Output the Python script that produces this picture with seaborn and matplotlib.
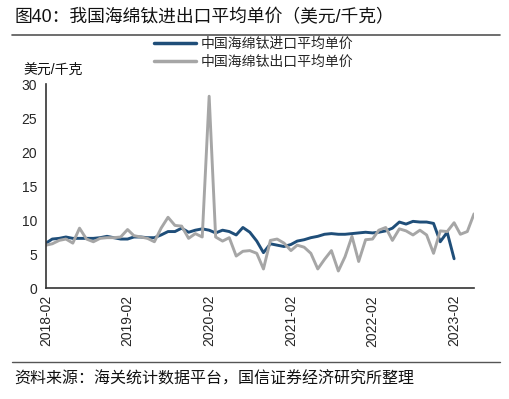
import pandas as pd
import numpy as np
import matplotlib
matplotlib.use("Agg")
import matplotlib.pyplot as plt
import matplotlib.dates as mdates
from matplotlib.lines import Line2D
import seaborn as sns

# Données (USD/kg), mensuel à partir de 2018-02
import_price = [6.6, 7.2, 7.3, 7.5, 7.3, 7.3, 7.3, 7.3, 7.4, 7.6,
                7.4, 7.2, 7.2, 7.5, 7.5, 7.4, 7.4, 7.8, 8.3, 8.3,
                8.8, 8.2, 8.5, 8.7, 8.5, 8.1, 8.5, 8.3, 7.8, 8.9,
                8.2, 6.9, 5.2, 6.5, 6.3, 6.1, 6.4, 6.9, 7.1, 7.4,
                7.6, 7.9, 8.0, 7.9, 7.9, 8.0, 8.1, 8.2, 8.1, 8.2,
                8.4, 8.8, 9.7, 9.4, 9.8, 9.7, 9.7, 9.5, 6.8, 8.2,
                4.3]
export_price = [6.3, 6.5, 7.0, 7.2, 6.6, 8.8, 7.2, 6.8, 7.3, 7.4,
                7.4, 7.5, 8.6, 7.7, 7.5, 7.3, 6.8, 8.8, 10.4, 9.2,
                9.1, 7.3, 8.0, 7.5, 28.2, 7.5, 6.9, 7.4, 4.7, 5.4,
                5.5, 5.1, 2.8, 7.0, 7.2, 6.6, 5.5, 6.3, 6.0, 5.1,
                2.8, 4.2, 5.5, 2.5, 4.6, 7.6, 3.9, 7.1, 7.2, 8.5,
                8.9, 7.0, 8.7, 8.4, 7.8, 8.5, 7.8, 5.1, 8.4, 8.3,
                9.6, 7.9, 8.3, 10.9]
start_month = "2018-02"
import_name = "中国海绵钛进口平均单价"
export_name = "中国海绵钛出口平均单价"
tick_years = ["2018-02", "2019-02", "2020-02", "2021-02", "2022-02", "2023-02"]

dates_imp = pd.date_range(start_month, periods=len(import_price), freq="MS")
dates_exp = pd.date_range(start_month, periods=len(export_price), freq="MS")
df = pd.concat([
    pd.DataFrame({"date": dates_imp, "price": import_price, "serie": import_name}),
    pd.DataFrame({"date": dates_exp, "price": export_price, "serie": export_name}),
])

sns.set_theme(style="white")
plt.rcParams["font.family"] = ["Liberation Sans", "Noto Sans CJK SC", "DejaVu Sans"]
plt.rcParams["axes.unicode_minus"] = False

fig = plt.figure(figsize=(5.09, 3.99), dpi=100)
W, H = 509, 399
ax = fig.add_axes([46 / W, 1 - 288 / H, 428 / W, 204 / H])

sns.lineplot(data=df, x="date", y="price", hue="serie",
             palette={import_name: "#1F4E79", export_name: "#A6A6A6"},
             linewidth=2.1, ax=ax, legend=False)

ax.set_xlim(pd.Timestamp("2018-02-01"), dates_exp[-1])
ax.set_ylim(0, 30)
ax.set_yticks([0, 5, 10, 15, 20, 25, 30])
ax.set_xticks(pd.to_datetime(tick_years))
ax.xaxis.set_major_formatter(mdates.DateFormatter("%Y-%m"))
ax.tick_params(axis="x", rotation=90, direction="in", length=4, width=1,
               labelsize=10, color="#222222", pad=5)
ax.tick_params(axis="y", direction="in", length=4, width=1,
               labelsize=10, color="#222222", pad=6.5)
ax.set_xlabel("")
ax.set_ylabel("")
sns.despine(ax=ax)
for s in ["left", "bottom"]:
    ax.spines[s].set_color("#333333")
    ax.spines[s].set_linewidth(1.2)

# Légende
handles = [Line2D([], [], color="#1F4E79", lw=2.5),
           Line2D([], [], color="#A6A6A6", lw=2.5)]
fig.legend(handles, [import_name, export_name], loc="center left",
           bbox_to_anchor=(147 / W, 1 - 53 / H), frameon=False, fontsize=10,
           handlelength=3.0, handletextpad=0.35, labelspacing=0.3,
           borderpad=0)

# Titre, unité, source
fig.text(14 / W, 1 - 18 / H, "图40：我国海绵钛进出口平均单价（美元/千克）",
         fontsize=12.8, va="center", ha="left", color="#111111")
fig.add_artist(Line2D([12 / W, 500 / W], [1 - 35 / H] * 2,
                      color="#555555", lw=1.2))
fig.text(53 / W, 1 - 70 / H, "美元/千克", fontsize=10, va="center",
         ha="center", color="#111111")
fig.add_artist(Line2D([12 / W, 500 / W], [1 - 362 / H] * 2,
                      color="#555555", lw=1.0))
fig.text(14 / W, 1 - 379 / H, "资料来源：海关统计数据平台，国信证券经济研究所整理",
         fontsize=11.5, va="center", ha="left", color="#111111")

fig.savefig("out.png", dpi=100)
